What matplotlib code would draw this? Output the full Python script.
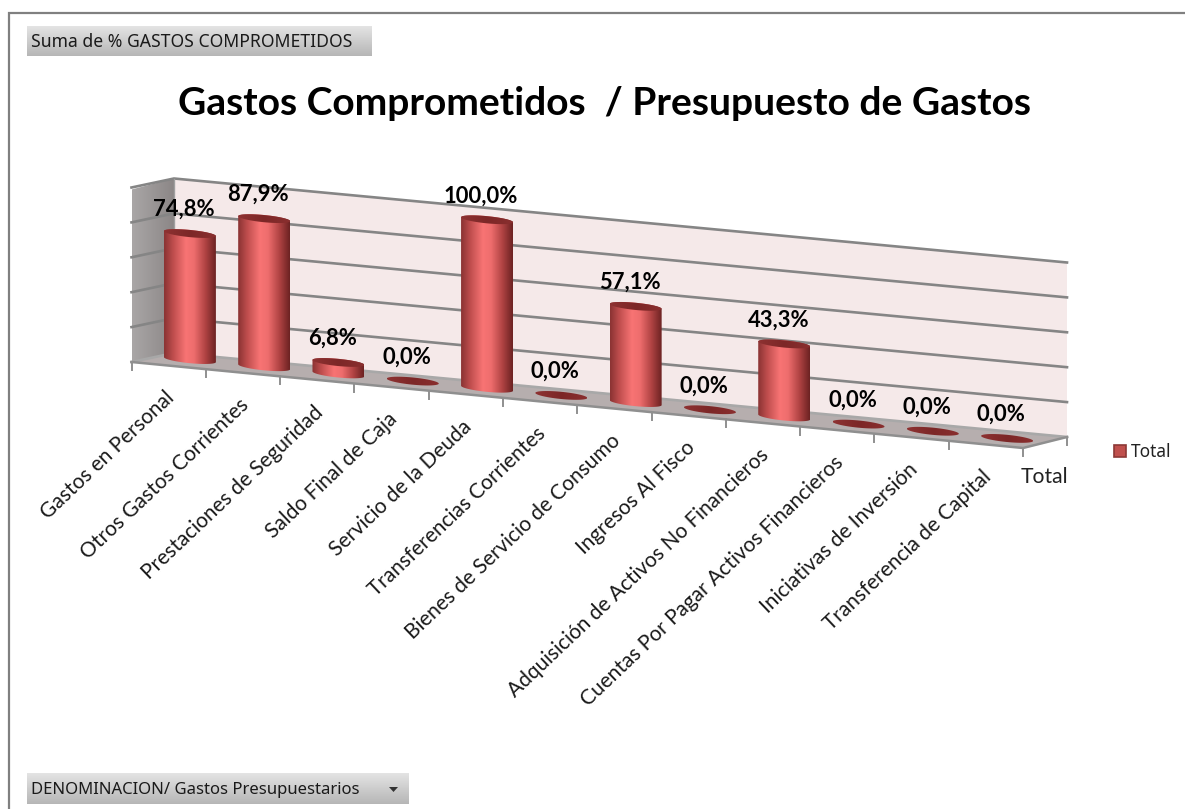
import numpy as np
import matplotlib
matplotlib.use('Agg')
import matplotlib.pyplot as plt
from matplotlib.colors import LinearSegmentedColormap
from matplotlib.patches import Polygon, Rectangle

categories = ['Gastos en Personal', 'Otros Gastos Corrientes', 'Prestaciones de Seguridad',
              'Saldo Final de Caja', 'Servicio de la Deuda', 'Transferencias Corrientes',
              'Bienes de Servicio de Consumo', 'Ingresos Al Fisco',
              'Adquisición de Activos No Financieros', 'Cuentas Por Pagar Activos Financieros',
              'Iniciativas de Inversión', 'Transferencia de Capital']
values = [74.8, 87.9, 6.8, 0.0, 100.0, 0.0, 57.1, 0.0, 43.3, 0.0, 0.0, 0.0]
grid_steps = [0, 20, 40, 60, 80, 100]

plt.rcParams['font.family'] = ['Lato', 'DejaVu Sans']

W, H = 1185, 809
fig = plt.figure(figsize=(W / 100, H / 100), dpi=100)
ax = fig.add_axes([0, 0, 1, 1])
ax.axis('off')

# floor corners in pixels, the 3D box is faked with these
front_l = np.array([131.5, 362.0])
front_r = np.array([1023.0, 448.0])
back_l = np.array([174.0, 353.0])
back_r = np.array([1067.0, 437.0])
wall_h = 174.5
bar_scale = 1.685
n = len(categories)
slope = (front_r[1] - front_l[1]) / (front_r[0] - front_l[0])
pitch = (front_r[0] - front_l[0]) / n
bar_a = 26.0
bar_b = 3.6

cyl_cmap = LinearSegmentedColormap.from_list('cyl', [
    (0.0, '#8a3333'), (0.18, '#c04e4e'), (0.42, '#f87474'), (0.58, '#ee6d6d'),
    (0.8, '#b04343'), (1.0, '#6c2222')])
top_cmap = LinearSegmentedColormap.from_list('top', ['#8e3232', '#7c2727', '#8a2f2f'])
wall_cmap = LinearSegmentedColormap.from_list('wall', ['#a9a6a6', '#8b8686'])
btn_cmap = LinearSegmentedColormap.from_list('btn', ['#e4e4e4', '#b6b6b6'])
grad = np.linspace(0, 1, 128)


def shaded(cmap, x0, x1, y0, y1, clip, vertical=False, z=2):
    data = grad[:, None] if vertical else grad[None, :]
    im = ax.imshow(data, cmap=cmap, extent=(x0, x1, y1, y0), aspect='auto',
                   interpolation='bilinear', zorder=z)
    im.set_clip_path(clip)
    return im


def ellipse(cx, cy, t):
    return np.column_stack([cx + bar_a * np.cos(t),
                            cy + slope * bar_a * np.cos(t) + bar_b * np.sin(t)])


# walls and floor
ax.add_patch(Polygon([back_l + [0, -wall_h], back_r + [0, -wall_h], back_r, back_l],
                     fc='#f5e9e9', ec='none', zorder=1))
side = Polygon([front_l + [0, -wall_h + 2], back_l + [0, -wall_h], back_l, front_l],
               transform=ax.transData, fc='none', ec='none', zorder=1)
ax.add_patch(side)
shaded(wall_cmap, front_l[0], back_l[0], back_l[1] - wall_h, front_l[1], side, z=1)
ax.add_patch(Polygon([front_l, front_r, back_r, back_l], fc='#b6aeae', ec='none', zorder=1))

# gridlines
for v in grid_steps:
    d = wall_h * v / 100
    ax.plot([front_l[0], back_l[0], back_r[0]],
            [front_l[1] - d, back_l[1] - d, back_r[1] - d],
            color='#858585' if v else '#a8a8a8', lw=1.9, zorder=1.5)
ax.plot([back_l[0], back_l[0]], [back_l[1], back_l[1] - wall_h], color='#a0a0a0', lw=1.0, zorder=1.5)

# front edge and ticks
ax.plot([front_l[0], front_r[0], back_r[0]], [front_l[1], front_r[1], back_r[1]],
        color='#8f8f8f', lw=1.8, zorder=1.6)
for i in range(n + 1):
    tx = front_l[0] + i * pitch
    ty = front_l[1] + i * pitch * slope
    ax.plot([tx, tx], [ty, ty + 8], color='#8f8f8f', lw=1.4, zorder=1.6)
ax.plot([back_r[0], back_r[0]], [back_r[1], back_r[1] + 8], color='#8f8f8f', lw=1.4, zorder=1.6)

# cylinders
for i, v in enumerate(values):
    cx = (front_l[0] + back_l[0]) / 2 + (i + 0.5) * pitch
    base = (front_l[1] + back_l[1]) / 2 + (i + 0.5) * pitch * slope - 1.5
    top = base - v * bar_scale
    z = 3 + i * 0.1
    if v > 0:
        lower = ellipse(cx, base, np.linspace(0, np.pi, 40))
        upper = ellipse(cx, top, np.linspace(np.pi, 2 * np.pi, 40))
        body = Polygon(np.vstack([lower, upper]), fc='none', ec='none', zorder=z)
        ax.add_patch(body)
        shaded(cyl_cmap, cx - bar_a, cx + bar_a, top - 10, base + 10, body, z=z)
    cap = Polygon(ellipse(cx, top, np.linspace(0, 2 * np.pi, 60)), fc='none', ec='none', zorder=z + 0.01)
    ax.add_patch(cap)
    shaded(top_cmap, cx - bar_a, cx + bar_a, top - 10, top + 10, cap, z=z + 0.01)
    label = f'{v:.1f}'.replace('.', ',') + '%'
    ax.text(cx - 6, top - 24, label, fontsize=15.8, fontweight='bold', color='black',
            ha='center', va='center', zorder=6)
    ax.text(front_l[0] + (i + 0.5) * pitch - 4, front_l[1] + (i + 0.5) * pitch * slope + 22,
            categories[i], rotation=43.5, rotation_mode='anchor', ha='right', va='top',
            fontsize=15.0, color='#1a1a1a', zorder=6)

# title and pivot buttons
ax.text(604, 103.5, 'Gastos Comprometidos  / Presupuesto de Gastos', fontsize=28.1, fontweight='bold',
        ha='center', va='center', color='black')
ax.text(1021, 477, 'Total', fontsize=15.2, color='#222222', ha='left', va='center')

btn_font = ['Noto Sans', 'DejaVu Sans']
b1 = Rectangle((27, 26), 345, 30, fc='none', ec='none')
ax.add_patch(b1)
shaded(btn_cmap, 27, 372, 26, 56, b1, vertical=True)
ax.text(31, 41.5, 'Suma de % GASTOS COMPROMETIDOS', fontsize=12.65, family=btn_font, color='#1a1a1a', va='center')
b2 = Rectangle((27, 773), 382, 31, fc='none', ec='none')
ax.add_patch(b2)
shaded(btn_cmap, 27, 409, 773, 804, b2, vertical=True)
ax.text(31, 789.5, 'DENOMINACION/ Gastos Presupuestarios', fontsize=12.0, family=btn_font, color='#1a1a1a', va='center')
ax.add_patch(Polygon([[389, 787], [398, 787], [393.5, 792]], fc='#333333', ec='none', zorder=4))

# legend
ax.add_patch(Rectangle((1114, 445), 12, 12, fc='#c0504d', ec='#8c3836', lw=1.2, zorder=4))
ax.text(1131, 452, 'Total', fontsize=12.4, family=btn_font, color='#222222', va='center')

# outer frame
ax.plot([8.5, 8.5, W], [H, 13, 13], color='#808080', lw=1.6, zorder=7, solid_joinstyle='miter')

ax.set_xlim(0, W)
ax.set_ylim(H, 0)
fig.savefig('out.png', dpi=100, facecolor='white')
